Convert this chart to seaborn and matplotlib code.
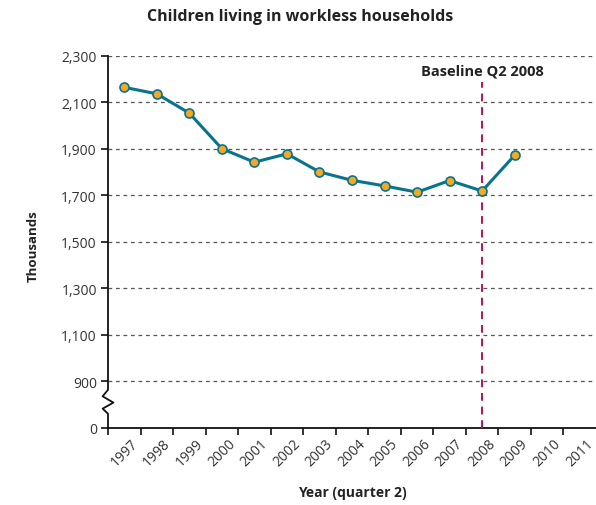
import matplotlib
matplotlib.use("Agg")
import matplotlib.pyplot as plt
import matplotlib.transforms as mtransforms
import seaborn as sns
import pandas as pd

# Children in workless households (thousands), quarter 2 of each year
years = [1997, 1998, 1999, 2000, 2001, 2002, 2003, 2004, 2005, 2006, 2007, 2008, 2009]
children = [2164, 2136, 2053, 1900, 1842, 1878, 1800, 1764, 1740, 1713, 1763, 1718, 1872]
year_ticks = list(range(1997, 2012))
y_ticks = [700, 900, 1100, 1300, 1500, 1700, 1900, 2100, 2300]
y_tick_labels = ["0", "900", "1,100", "1,300", "1,500", "1,700", "1,900", "2,100", "2,300"]
baseline_year = 2008

sns.set_theme(style="white")
plt.rcParams["font.family"] = ["Open Sans", "DejaVu Sans"]

# each year occupies one interval; points sit in the middle of it
df = pd.DataFrame({"pos": [y + 0.5 for y in years], "value": children})

fig = plt.figure(figsize=(5.96, 5.06), dpi=100)
ax = fig.add_axes([108 / 596, 77.3 / 506, 488 / 596, 372 / 506])

teal = "#08738c"
sns.lineplot(data=df, x="pos", y="value", ax=ax, color=teal, linewidth=2.2,
             marker="o", markersize=6.5, markerfacecolor="#f7a823",
             markeredgecolor=teal, markeredgewidth=1.2, zorder=4)

ax.set_xlim(1997, 2012)
ax.set_ylim(700, 2300)

# dashed horizontal gridlines (not at the broken zero)
for v in y_ticks[1:]:
    ax.axhline(v, color="#555555", linestyle=(0, (3, 3)), linewidth=0.9, zorder=1)

# baseline marker
ax.plot([baseline_year + 0.5, baseline_year + 0.5], [700, 2185], color="#b0125f",
        linestyle=(0, (4, 3)), linewidth=1.4, zorder=3)
ax.text(baseline_year + 0.5, 2206, "Baseline Q2 2008", ha="center", va="bottom",
        fontsize=10.5, fontweight="bold", color="#222222")

# tick marks on year boundaries, labels centred in each interval
ax.set_xticks(year_ticks)
ax.set_xticklabels([])
ax.set_xticks([y + 0.5 for y in year_ticks[:-1]] + [2011.5], minor=True)
ax.set_xticklabels([str(y) for y in year_ticks], minor=True, rotation=45,
                   ha="center", va="center", rotation_mode="anchor",
                   fontsize=10, color="#333333")
ax.set_yticks(y_ticks)
ax.set_yticklabels(y_tick_labels, fontsize=10, color="#333333")
ax.tick_params(axis="both", which="major", direction="out", length=5, width=1.2,
               color="#111111", left=True, bottom=True, pad=3)
ax.tick_params(axis="x", which="minor", length=0, bottom=True, pad=17.5)

for s in ["top", "right", "left"]:
    ax.spines[s].set_visible(False)
ax.spines["bottom"].set_color("#111111")
ax.spines["bottom"].set_linewidth(1.3)

# left axis drawn with a zigzag break between 0 and 900
trans = mtransforms.blended_transform_factory(ax.transAxes, ax.transData)
dx = 0.011
bx = [0, 0, -dx, dx, -dx, 0, 0]
by = [2300, 863, 835, 808, 782, 760, 700]
ax.plot(bx, by, color="#111111", linewidth=1.3, transform=trans, clip_on=False, zorder=5)

ax.set_xlabel("")
ax.set_ylabel("")
fig.text(0.503, 0.966, "Children living in workless households", ha="center", va="center",
         fontsize=11.5, fontweight="bold", color="#222222")
fig.text(33 / 596, 1 - 246 / 506, "Thousands", rotation=90, ha="center", va="center",
         fontsize=9.5, fontweight="bold", color="#222222")
fig.text(352 / 596, 1 - 493 / 506, "Year (quarter 2)", ha="center", va="center",
         fontsize=10, fontweight="bold", color="#222222")

fig.savefig("out.png", dpi=100)
